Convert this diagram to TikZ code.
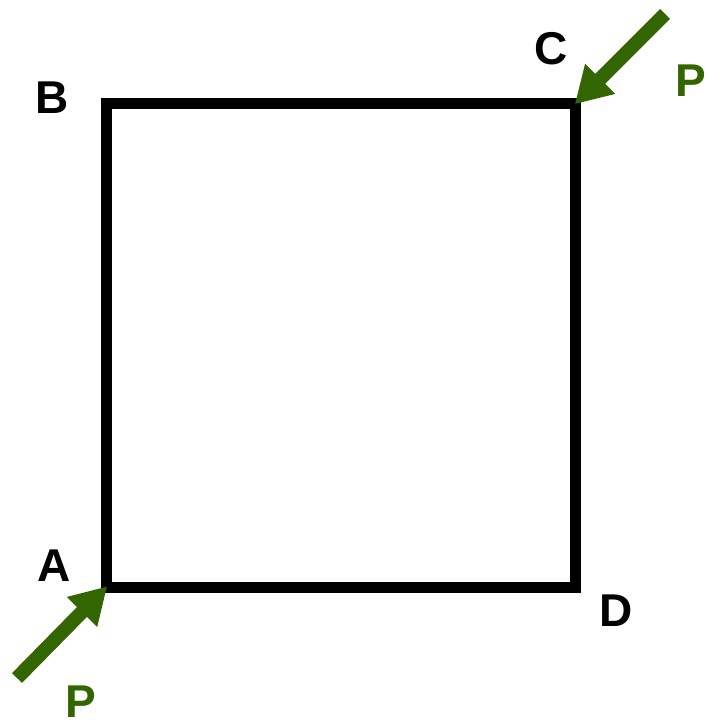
\documentclass[tikz,border=0pt]{standalone}
\usepackage{fontspec}
\setmainfont{Liberation Sans}
\usetikzlibrary{arrows.meta}
\definecolor{pgreen}{HTML}{336600}
\tikzset{
  frame/.style={line width=11pt, line join=miter, draw=black},
  force/.style={draw=pgreen, line width=14pt, line cap=butt, -{Triangle[length=36pt,width=40pt]}, shorten >=-1pt},
  lbl/.style={font=\fontsize{46}{46}\selectfont\bfseries, inner sep=0pt, anchor=center},
  plbl/.style={lbl, text=pgreen}
}
\begin{document}
\begin{tikzpicture}[x=1pt,y=-1pt]
\useasboundingbox (0,0) rectangle (707,721);
\coordinate (A) at (106.5,587);
\coordinate (B) at (106.5,103.5);
\coordinate (C) at (575.5,103.5);
\coordinate (D) at (575.5,587);
\draw[frame] (A) -- (B) -- (C) -- (D) -- cycle;
\coordinate (tc) at (665,14);
\coordinate (ta) at (17,678);
\draw[force] (tc) -- (C);
\draw[force] (ta) -- (A);
\node[lbl] (lA) at (54,566) {A};
\node[lbl] (lB) at (52,98) {B};
\node[lbl] (lC) at (551,49) {C};
\node[lbl] (lD) at (616,611) {D};
\node[plbl] (pC) at (691,81) {P};
\node[plbl] (pA) at (81,702) {P};
\end{tikzpicture}
\end{document}
